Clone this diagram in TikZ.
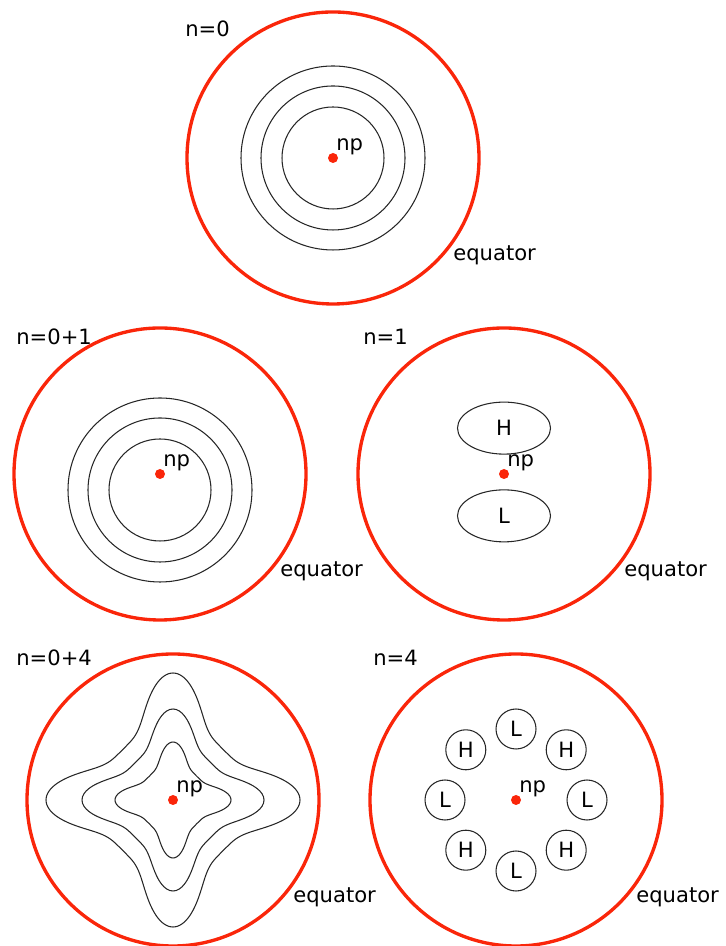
\documentclass[tikz,border=0pt]{standalone}
\usepackage{fontspec}
\setmainfont{DejaVu Sans}
\usetikzlibrary{shapes.geometric, positioning, calc}
\definecolor{eqred}{RGB}{250,38,10}

\begin{document}
\begin{tikzpicture}[font=\fontsize{12}{14}\selectfont,
    equator/.style={draw=eqred, line width=1.9pt},
    isoline/.style={draw=black!85, line width=0.6pt},
    npdot/.style={circle, fill=eqred, inner sep=0pt, minimum size=0.2cm},
    txt/.style={inner sep=0pt, anchor=base west},
    blob/.style={ellipse, draw=black!85, line width=0.6pt, inner sep=0pt, minimum width=1.86cm, minimum height=1.04cm},
    spot/.style={circle, draw=black!85, line width=0.6pt, inner sep=0pt, minimum size=0.8cm}]
    \useasboundingbox (0,0) rectangle (14.5,18.92);
    % n=0
    \node[npdot] (np0) at (6.66,15.76) {};
    \draw[equator] (np0) circle (2.92);
    \foreach \r in {1.02,1.44,1.84} \draw[isoline] (np0) circle (\r);
    \node[txt] (lbl0) at (3.70,18.19) {n=0};
    \node[txt] (np0t) at ($(np0)+(0.06,0.14)$) {np};
    \node[txt] (eq0) at ($(np0)+(2.40,-2.06)$) {equator};
    % n=0+1
    \node[npdot] (np01) at (3.20,9.44) {};
    \draw[equator] (np01) circle (2.92);
    \foreach \r in {1.02,1.44,1.84} \draw[isoline] ($(np01)+(0,-0.32)$) circle (\r);
    \node[txt] (lbl01) at (0.32,12.02) {n=0+1};
    \node[txt] (np01t) at ($(np01)+(0.06,0.14)$) {np};
    \node[txt] (eq01) at ($(np01)+(2.40,-2.06)$) {equator};
    % n=1
    \node[npdot] (np1) at (10.08,9.44) {};
    \draw[equator] (np1) circle (2.92);
    \node[blob, above=0.28cm of np1] (hi1) {H};
    \node[blob, below=0.2cm of np1] (lo1) {L};
    \node[txt] (lbl1) at (7.26,12.03) {n=1};
    \node[txt] (np1t) at ($(np1)+(0.06,0.14)$) {np};
    \node[txt] (eq1) at ($(np1)+(2.40,-2.06)$) {equator};
    % n=0+4
    \node[npdot] (np04) at (3.46,2.92) {};
    \draw[equator] (np04) circle (2.92);
    \foreach \tp/\dg in {2.54/1.42, 1.82/1.06, 1.16/0.67}
        \draw[isoline, shift={(np04.center)}] plot[domain=0:358, samples=180, smooth cycle]
            ({(\dg+(\tp-\dg)*exp(-((mod(\x+45,90)-45)/18.5)*((mod(\x+45,90)-45)/18.5)))*cos(\x)},
             {(\dg+(\tp-\dg)*exp(-((mod(\x+45,90)-45)/18.5)*((mod(\x+45,90)-45)/18.5)))*sin(\x)});
    \node[txt] (lbl04) at (0.32,5.60) {n=0+4};
    \node[txt] (np04t) at ($(np04)+(0.06,0.14)$) {np};
    \node[txt] (eq04) at ($(np04)+(2.40,-2.06)$) {equator};
    % n=4
    \node[npdot] (np4) at (10.32,2.92) {};
    \draw[equator] (np4) circle (2.92);
    \foreach \a/\s [count=\i] in {90/L,45/H,0/L,-45/H,-90/L,-135/H,180/L,135/H}
        \node[spot] (hl\i) at ($(np4)+(\a:1.42)$) {\s};
    \node[txt] (lbl4) at (7.46,5.60) {n=4};
    \node[txt] (np4t) at ($(np4)+(0.06,0.14)$) {np};
    \node[txt] (eq4) at ($(np4)+(2.40,-2.06)$) {equator};
\end{tikzpicture}
\end{document}
